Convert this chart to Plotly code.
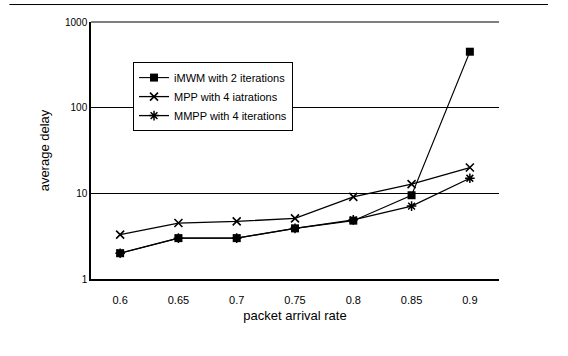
import plotly.graph_objects as go

rates = ["0.6", "0.65", "0.7", "0.75", "0.8", "0.85", "0.9"]
imwm = [2.0, 3.0, 3.0, 3.9, 4.8, 9.5, 450]
mpp = [3.3, 4.5, 4.7, 5.1, 9.1, 12.8, 20]
mmpp = [2.0, 3.0, 3.0, 3.9, 4.9, 7.1, 15]

FONT = "Liberation Sans, Arial, sans-serif"

fig = go.Figure()
fig.add_trace(go.Scatter(x=rates, y=imwm, name="iMWM with 2 iterations", mode="lines+markers",
                         line=dict(color="black", width=1.1),
                         marker=dict(symbol="square", size=8, color="black")))
fig.add_trace(go.Scatter(x=rates, y=mpp, name="MPP with 4 iatrations", mode="lines+markers",
                         line=dict(color="black", width=1.3),
                         marker=dict(symbol="x-thin-open", size=8, line=dict(color="black", width=1.6))))
fig.add_trace(go.Scatter(x=rates, y=mmpp, name="MMPP with 4 iterations", mode="lines+markers",
                         line=dict(color="black", width=1.3),
                         marker=dict(symbol="asterisk-open", size=8, line=dict(color="black", width=1.5))))

fig.update_layout(
    width=568, height=356,
    margin=dict(l=91, r=69, t=22, b=77),
    paper_bgcolor="white", plot_bgcolor="white",
    font=dict(family=FONT, color="black", size=10),
    showlegend=True,
    legend=dict(x=0.103, y=0.844, xanchor="left", yanchor="top",
                bgcolor="white", bordercolor="black", borderwidth=1,
                font=dict(size=11, family=FONT), tracegroupgap=0,
                itemwidth=30),
    xaxis=dict(type="category", range=[-0.5, 6.5], showgrid=False,
               showline=True, linecolor="black", linewidth=2, mirror=False,
               ticks="", tickfont=dict(size=11), ticklabelstandoff=10,
               title=dict(text="packet arrival rate", font=dict(size=13), standoff=6)),
    yaxis=dict(type="log", range=[0, 3], tickvals=[1, 10, 100, 1000],
               ticktext=["1", "10", "100", "1000"],
               showgrid=True, gridcolor="black", gridwidth=1,
               showline=True, linecolor="black", linewidth=1.5,
               ticks="", tickfont=dict(size=10), zeroline=False,
               title=dict(text="average delay", font=dict(size=13), standoff=12)),
)

# top frame line at 1000 (edge of range) and scan border at top
fig.add_shape(type="line", xref="paper", yref="paper",
              x0=0, x1=1, y0=1, y1=1,
              line=dict(color="black", width=1.2))
fig.add_shape(type="line", xref="paper", yref="paper",
              x0=-0.2, x1=1.12, y0=1.068, y1=1.068,
              line=dict(color="black", width=1))

fig.write_html("out.html")
